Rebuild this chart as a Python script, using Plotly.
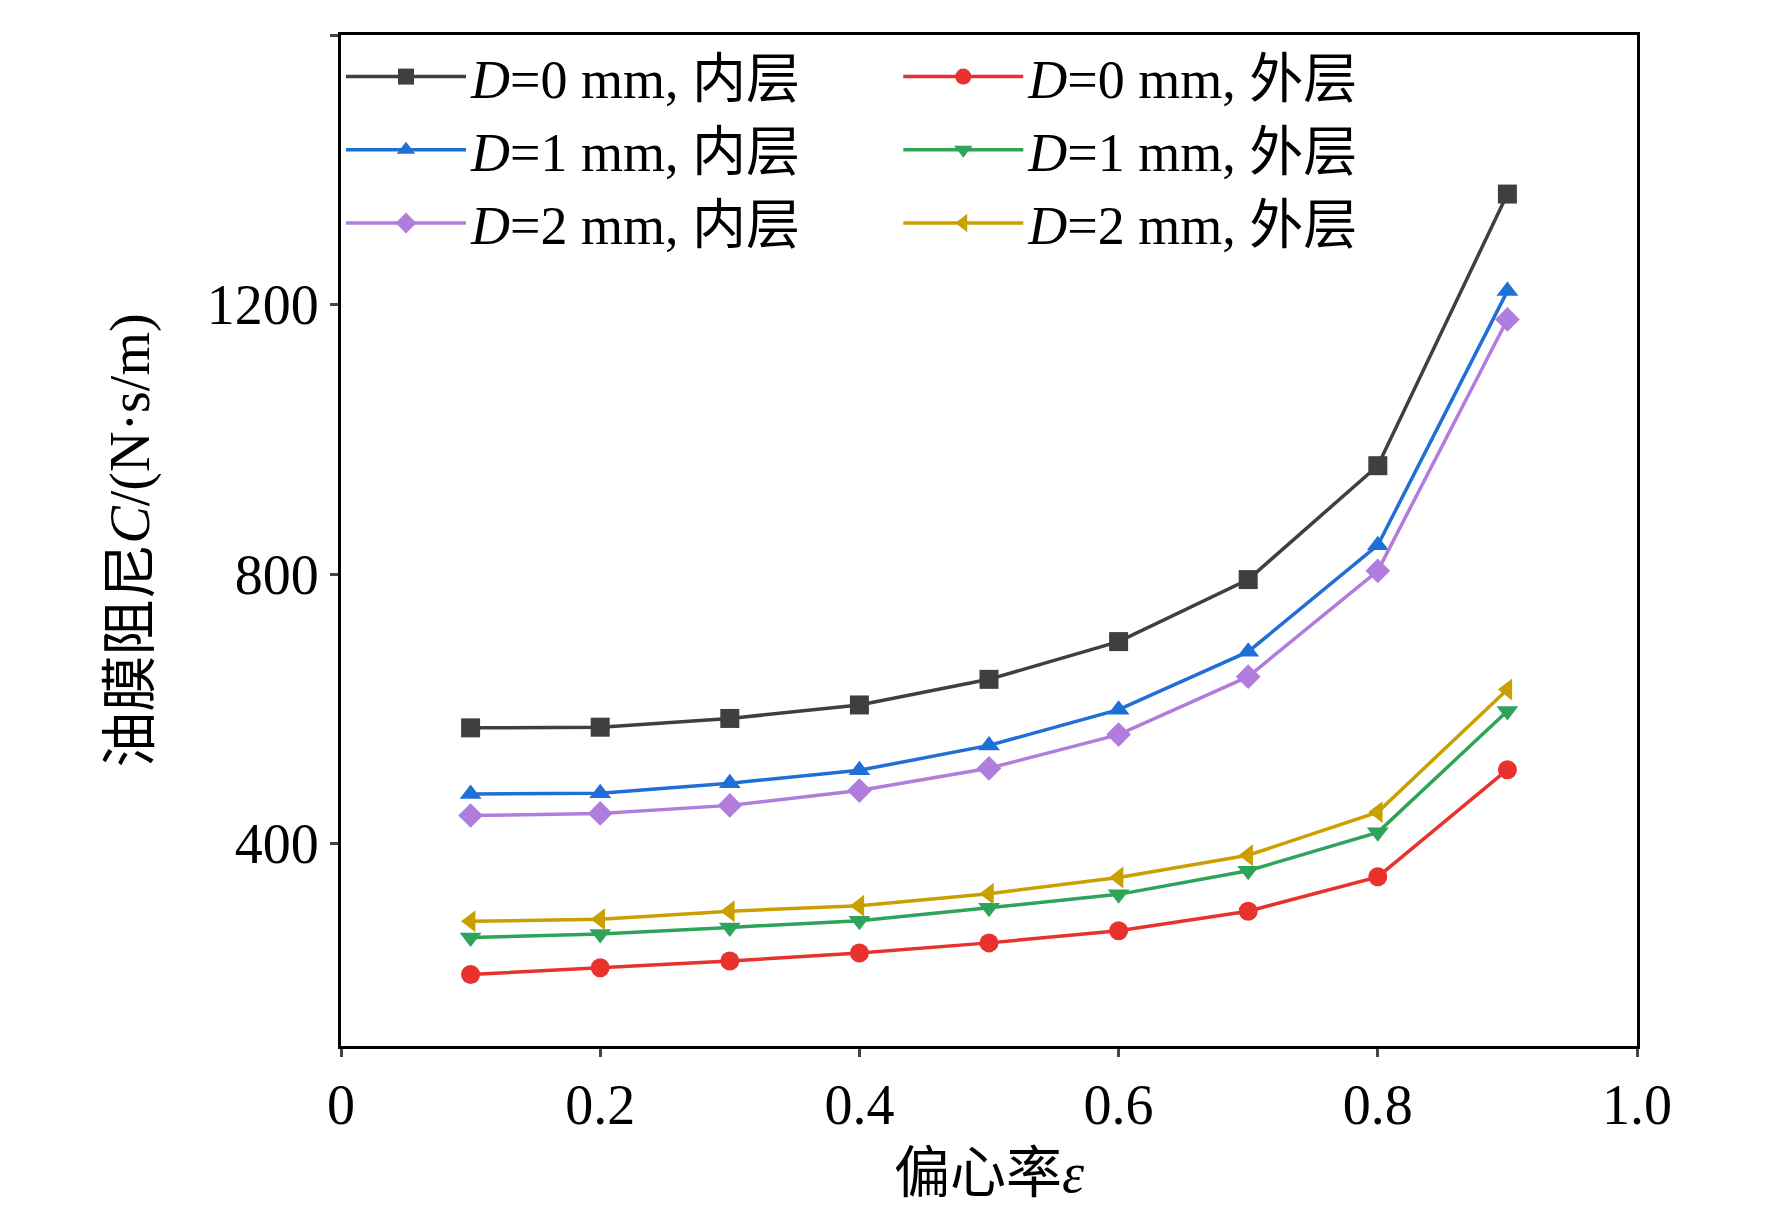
import plotly.graph_objects as go

x = [0.1, 0.2, 0.3, 0.4, 0.5, 0.6, 0.7, 0.8, 0.9]
d0_in = [572, 573, 586, 606, 644, 700, 792, 961, 1364]
d0_out = [206, 216, 226, 238, 253, 271, 300, 351, 510]
d1_in = [474, 475, 490, 509, 546, 599, 685, 843, 1220]
d1_out = [261, 266, 276, 286, 305, 325, 360, 417, 597]
d2_in = [442, 445, 457, 479, 512, 562, 648, 805, 1178]
d2_out = [285, 288, 300, 308, 326, 350, 383, 447, 629]

series = [
    ("<i>D</i>=0 mm, 内层", d0_in, "#3f3f3f", "square"),
    ("<i>D</i>=0 mm, 外层", d0_out, "#e8322e", "circle"),
    ("<i>D</i>=1 mm, 内层", d1_in, "#1f6fd6", "triangle-up"),
    ("<i>D</i>=1 mm, 外层", d1_out, "#2ea45a", "triangle-down"),
    ("<i>D</i>=2 mm, 内层", d2_in, "#b07ddc", "diamond"),
    ("<i>D</i>=2 mm, 外层", d2_out, "#c9a000", "triangle-left"),
]

fig = go.Figure()
for name, y, c, m in series:
    fig.add_trace(go.Scatter(x=x, y=y, name=name, mode="lines+markers",
                             line=dict(color=c, width=3.5),
                             marker=dict(symbol=m, size=19, color=c)))

font = "Liberation Serif, Noto Sans CJK SC"
fig.update_layout(
    width=1772, height=1229, paper_bgcolor="white", plot_bgcolor="white",
    margin=dict(l=333, r=143, t=27, b=191),
    font=dict(family=font, size=56, color="black"),
    showlegend=True,
    legend=dict(orientation="h", x=0.0, y=1.0, xanchor="left", yanchor="top",
                entrywidth=0.43, entrywidthmode="fraction",
                bgcolor="rgba(0,0,0,0)", font=dict(size=54, family=font),
                tracegroupgap=0, itemwidth=120),
    xaxis=dict(range=[0, 1.0], tickvals=[0, 0.2, 0.4, 0.6, 0.8, 1.0],
               ticktext=["0", "0.2", "0.4", "0.6", "0.8", "1.0"],
               showline=True, linecolor="black", linewidth=3, mirror=True,
               ticks="outside", ticklen=8, tickwidth=3, showgrid=False, zeroline=False,
               title=dict(text="偏心率<i>ε</i>", font=dict(size=56), standoff=18)),
    yaxis=dict(range=[100, 1600], tickvals=[400, 800, 1200, 1600],
               showline=True, linecolor="black", linewidth=3, mirror=True,
               ticks="outside", ticklen=8, tickwidth=3, showgrid=False, zeroline=False,
               title=dict(text="油膜阻尼<i>C</i>/(N·s/m)", font=dict(size=56), standoff=40)),
)
fig.write_html("out.html")
